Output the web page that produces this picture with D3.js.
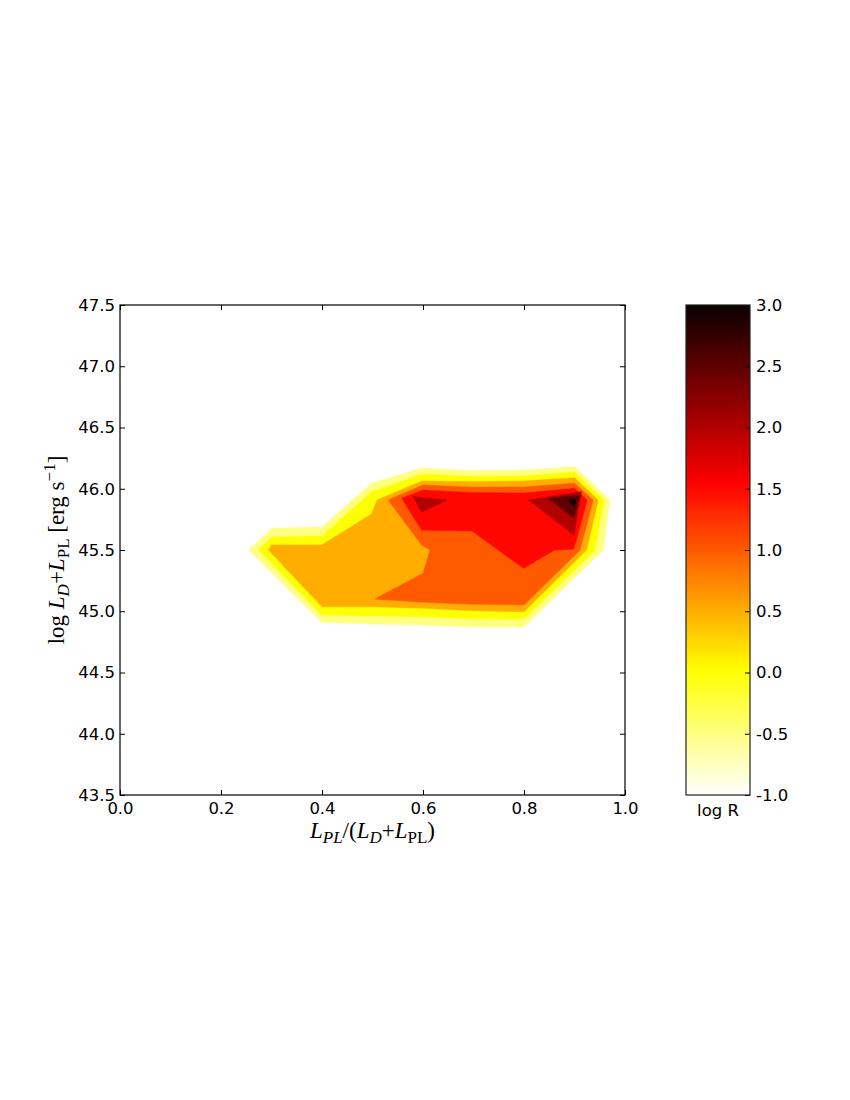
<!DOCTYPE html>
<meta charset="utf-8">
<style>
body { margin: 0; background: #fff; }
.tick text { font-family: "DejaVu Sans", sans-serif; font-size: 16.5px; fill: #000; }
.tick line { stroke: #000; stroke-width: 1; }
.math { font-family: "Liberation Serif", "DejaVu Serif", serif; font-size: 23px; fill: #000; }
.cblabel { font-family: "DejaVu Sans", sans-serif; font-size: 16.5px; }
</style>
<svg width="850" height="1100"></svg>
<script src="https://cdn.jsdelivr.net/npm/d3@7"></script>
<script>

// log R levels: the area above levels[i] is painted with the colour of bandLogR[i]
var levels = [-0.75, -0.25, 0.25, 0.75, 1.25, 1.75, 2.25, 2.75];
var bandLogR = [-0.5, 0.0, 0.5, 1.0, 1.5, 2.0, 2.5, 3.0];

var xTicks = [0.0, 0.2, 0.4, 0.6, 0.8, 1.0];
var yTicks = [43.5, 44.0, 44.5, 45.0, 45.5, 46.0, 46.5, 47.0, 47.5];
var cbTicks = [-1.0, -0.5, 0.0, 0.5, 1.0, 1.5, 2.0, 2.5, 3.0];

// outlines of log R >= level, as [L_PL/(L_D+L_PL), log L] pairs
var outline0 = [[0.255,45.5],[0.30,45.677],[0.40,45.688],[0.498,46.045],[0.597,46.167],[0.70,46.149],
  [0.80,46.153],[0.90,46.182],[0.970,45.908],[0.957,45.5],[0.80,44.871],[0.70,44.871],[0.60,44.888],
  [0.50,44.896],[0.40,44.908]];
var outline1 = [[0.274,45.5],[0.30,45.604],[0.40,45.614],[0.498,45.976],[0.60,46.12],[0.70,46.10],
  [0.80,46.104],[0.90,46.134],[0.958,45.908],[0.941,45.5],[0.80,44.937],[0.70,44.939],[0.60,44.955],
  [0.50,44.961],[0.40,44.969]];
var outline2 = [[0.294,45.5],[0.30,45.541],[0.40,45.541],[0.498,45.794],[0.509,45.908],[0.598,46.063],
  [0.70,46.058],[0.80,46.063],[0.90,46.09],[0.947,45.908],[0.924,45.5],[0.80,44.996],[0.70,45.004],
  [0.60,45.024],[0.50,45.037],[0.40,45.037]];
var outline3 = [[0.505,45.10],[0.60,45.073],[0.70,45.057],[0.80,45.051],[0.911,45.5],[0.937,45.908],
  [0.90,46.045],[0.80,46.014],[0.70,46.012],[0.60,46.031],[0.531,45.908],[0.597,45.541],[0.614,45.5],
  [0.60,45.31]];
var outline4 = [[0.558,45.922],[0.597,45.663],[0.697,45.655],[0.799,45.351],[0.861,45.5],[0.898,45.506],
  [0.904,45.582],[0.925,45.908],[0.90,46.004],[0.80,45.965],[0.70,45.968],[0.60,45.99]];
var outline5a = [[0.581,45.935],[0.647,45.908],[0.597,45.808]];
var outline5b = [[0.809,45.908],[0.914,45.976],[0.899,45.622]];
var outline6 = [[0.848,45.922],[0.911,45.949],[0.899,45.759]];
var outline7 = [[0.888,45.908],[0.903,45.916],[0.899,45.853]];

var regions = [[outline0], [outline1], [outline2], [outline3], [outline4],
  [outline5a, outline5b], [outline6], [outline7]];

var svg = d3.select("svg");

var plotL = 120, plotR = 625, plotT = 305, plotB = 795;

var x = d3.scaleLinear().domain([0, 1]).range([plotL, plotR]);
var y = d3.scaleLinear().domain([43.5, 47.5]).range([plotB, plotT]);

// matplotlib "hot", reversed
function hot(t) {
  var r = t < 0.365079 ? 0.0416 + (1 - 0.0416) * t / 0.365079 : 1;
  var g = t < 0.365079 ? 0 : t < 0.746032 ? (t - 0.365079) / (0.746032 - 0.365079) : 1;
  var b = t < 0.746032 ? 0 : (t - 0.746032) / (1 - 0.746032);
  return d3.rgb(r * 255, g * 255, b * 255).toString();
}
var norm = d3.scaleLinear().domain([-1, 3]).range([0, 1]).clamp(true);
function hotR(v) { return hot(1 - norm(v)); }

svg.append("clipPath").attr("id", "plotclip")
  .append("rect")
    .attr("x", plotL).attr("y", plotT)
    .attr("width", plotR - plotL).attr("height", plotB - plotT);

var line = d3.line()
    .x(function(d) { return x(d[0]); })
    .y(function(d) { return y(d[1]); })
    .curve(d3.curveLinearClosed);

var g = svg.append("g").attr("clip-path", "url(#plotclip)");

regions.forEach(function(rings, i) {
  rings.forEach(function(ring) {
    g.append("path")
      .attr("d", line(ring))
      .attr("fill", hotR(bandLogR[i]))
      .attr("stroke", hotR(bandLogR[i]))
      .attr("stroke-width", 0.5);
  });
});

// axes, ticks pointing inwards on all four sides
svg.append("g")
    .attr("transform", "translate(0," + plotB + ")")
    .call(d3.axisBottom(x).tickValues(xTicks).tickSize(-5).tickPadding(7)
      .tickFormat(function(d) { return d.toFixed(1); }));
svg.append("g")
    .attr("transform", "translate(0," + plotT + ")")
    .call(d3.axisTop(x).tickValues(xTicks).tickSize(-5).tickFormat(""));
svg.append("g")
    .attr("transform", "translate(" + plotL + ",0)")
    .call(d3.axisLeft(y).tickValues(yTicks).tickSize(-5).tickPadding(5)
      .tickFormat(function(d) { return d.toFixed(1); }));
svg.append("g")
    .attr("transform", "translate(" + plotR + ",0)")
    .call(d3.axisRight(y).tickValues(yTicks).tickSize(-5).tickFormat(""));

svg.selectAll(".domain").remove();

svg.append("rect")
    .attr("x", plotL).attr("y", plotT)
    .attr("width", plotR - plotL).attr("height", plotB - plotT)
    .attr("fill", "none").attr("stroke", "#000").attr("stroke-width", 1.2);

// x label: L_PL/(L_D+L_PL)
var sub = "17px";
var xl = svg.append("text").attr("class", "math")
    .attr("x", (plotL + plotR) / 2).attr("y", 838)
    .attr("text-anchor", "middle");
xl.append("tspan").style("font-style", "italic").text("L");
xl.append("tspan").style("font-style", "italic").attr("dy", 5).style("font-size", sub).text("PL");
xl.append("tspan").attr("dy", -5).text("/(");
xl.append("tspan").style("font-style", "italic").text("L");
xl.append("tspan").style("font-style", "italic").attr("dy", 5).style("font-size", sub).text("D");
xl.append("tspan").attr("dy", -5).text("+");
xl.append("tspan").style("font-style", "italic").text("L");
xl.append("tspan").attr("dy", 5).style("font-size", sub).text("PL");
xl.append("tspan").attr("dy", -5).text(")");

// y label: log L_D+L_PL [erg s^-1]
var yl = svg.append("text").attr("class", "math")
    .attr("transform", "translate(64," + (plotT + plotB) / 2 + ") rotate(-90)")
    .attr("text-anchor", "middle");
yl.append("tspan").text("log ");
yl.append("tspan").style("font-style", "italic").text("L");
yl.append("tspan").style("font-style", "italic").attr("dy", 5).style("font-size", sub).text("D");
yl.append("tspan").attr("dy", -5).text("+");
yl.append("tspan").style("font-style", "italic").text("L");
yl.append("tspan").attr("dy", 5).style("font-size", sub).text("PL");
yl.append("tspan").attr("dy", -5).text(" [erg s");
yl.append("tspan").attr("dy", -9).style("font-size", sub).text("\u22121");
yl.append("tspan").attr("dy", 9).text("]");

// colour bar
var cbLeft = 686, cbRight = 750;
var cb = d3.scaleLinear().domain([-1, 3]).range([plotB, plotT]);

var grad = svg.append("defs").append("linearGradient")
    .attr("id", "cbgrad")
    .attr("x1", 0).attr("y1", 1).attr("x2", 0).attr("y2", 0);
grad.selectAll("stop")
  .data(d3.range(0, 1.0001, 0.02))
  .enter().append("stop")
    .attr("offset", function(d) { return d; })
    .attr("stop-color", function(d) { return hotR(-1 + 4 * d); });

svg.append("rect")
    .attr("x", cbLeft).attr("y", plotT)
    .attr("width", cbRight - cbLeft).attr("height", plotB - plotT)
    .attr("fill", "url(#cbgrad)");

svg.append("g")
    .attr("transform", "translate(" + cbRight + ",0)")
    .call(d3.axisRight(cb).tickValues(cbTicks).tickSize(-5).tickPadding(6)
      .tickFormat(function(d) { return d.toFixed(1); }))
    .select(".domain").remove();

svg.append("rect")
    .attr("x", cbLeft).attr("y", plotT)
    .attr("width", cbRight - cbLeft).attr("height", plotB - plotT)
    .attr("fill", "none").attr("stroke", "#222").attr("stroke-width", 1.2);

svg.append("text").attr("class", "cblabel")
    .attr("x", (cbLeft + cbRight) / 2).attr("y", 816)
    .attr("text-anchor", "middle")
    .text("log R");

</script>
